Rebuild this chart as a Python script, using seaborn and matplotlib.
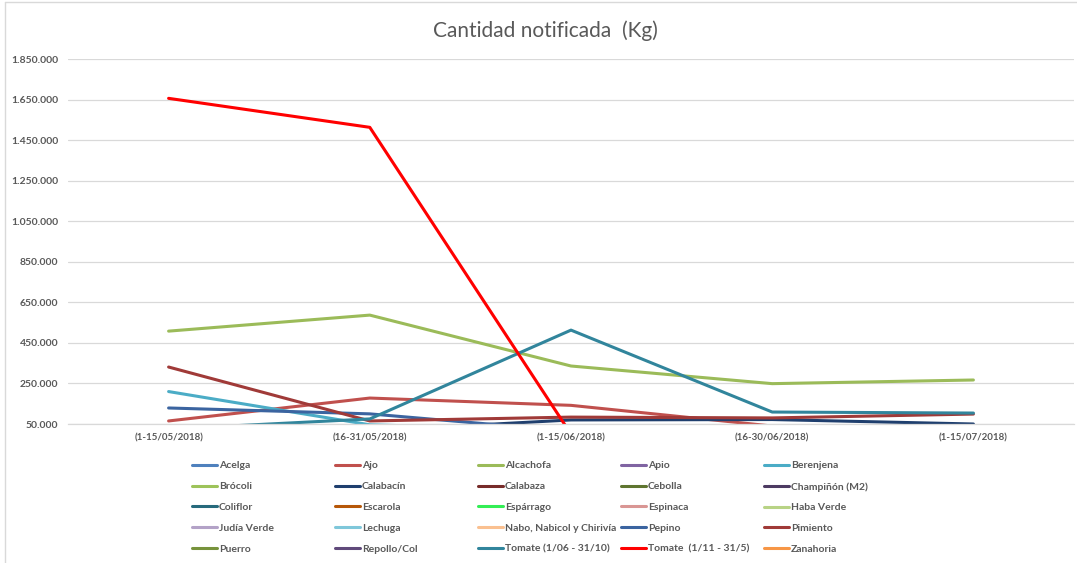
import numpy as np
import pandas as pd
import matplotlib
matplotlib.use('Agg')
import matplotlib.pyplot as plt
import seaborn as sns
from matplotlib.ticker import FuncFormatter
from matplotlib.lines import Line2D

# periodos (eje x)
periodos = ['(1-15/05/2018)', '(16-31/05/2018)', '(1-15/06/2018)',
            '(16-30/06/2018)', '(1-15/07/2018)']

# productos en el orden de la leyenda
productos = ['Acelga', 'Ajo', 'Alcachofa', 'Apio', 'Berenjena',
             'Brócoli', 'Calabacín', 'Calabaza', 'Cebolla', 'Champiñón (M2)',
             'Coliflor', 'Escarola', 'Espárrago', 'Espinaca', 'Haba Verde',
             'Judía Verde', 'Lechuga', 'Nabo, Nabicol y Chirivía', 'Pepino', 'Pimiento',
             'Puerro', 'Repollo/Col', 'Tomate (1/06 - 31/10)', 'Tomate  (1/11 - 31/5)', 'Zanahoria']

colores = ['#4F81BD', '#C0504D', '#9BBB59', '#8064A2', '#4BACC6',
           '#9DC35A', '#1F3F6E', '#772C2A', '#5F7530', '#4D3B62',
           '#276A7C', '#B65708', '#33EE55', '#D99694', '#B8D385',
           '#B3A2C7', '#7FC7DA', '#FAC090', '#3B64A0', '#A03A38',
           '#77933C', '#604A7B', '#31859C', '#FF0000', '#F79646']

# cantidades (kg); las que no se ven quedan por debajo de 50.000
ajo = [65000, 178000, 142000, 40000, 30000]
alcachofa = [508000, 587000, 336000, 249000, 267000]
berenjena = [210000, 46000, 20000, 20000, 20000]
calabacin = [0, 17000, 70000, 72000, 50000]
pepino = [129000, 100000, 15000, 15000, 15000]
pimiento = [331000, 65000, 84000, 80000, 99000]
tomate_verano = [25000, 75000, 513000, 109000, 104000]
tomate_invierno = [1656000, 1513000, 0, 0, 0]
cero = [0, 0, 0, 0, 0]

# eje y
y_min, y_max, y_paso = 50000, 1850000, 200000

valores = {p: cero for p in productos}
valores['Ajo'] = ajo
valores['Alcachofa'] = alcachofa
valores['Berenjena'] = berenjena
valores['Calabacín'] = calabacin
valores['Pepino'] = pepino
valores['Pimiento'] = pimiento
valores['Tomate (1/06 - 31/10)'] = tomate_verano
valores['Tomate  (1/11 - 31/5)'] = tomate_invierno

filas = []
for p in productos:
    for i, v in enumerate(valores[p]):
        filas.append({'producto': p, 'periodo': i, 'kg': v})
df = pd.DataFrame(filas)
paleta = dict(zip(productos, colores))

sns.set_style('white')
plt.rcParams['font.family'] = ['Lato', 'DejaVu Sans']
gris = '#595959'

W, H = 1077, 563
fig = plt.figure(figsize=(W / 100, H / 100), dpi=100)
ax = fig.add_axes([68 / W, 1 - 424 / H, (1074 - 68) / W, (424 - 59) / H])

sns.lineplot(data=df, x='periodo', y='kg', hue='producto', palette=paleta,
             hue_order=productos, linewidth=2.2, sort=False, legend=False, ax=ax)

ax.set_xlim(-0.5, 4.5)
ax.set_ylim(y_min, y_max)
ax.set_yticks(np.arange(y_min, y_max + 1, y_paso))
ax.yaxis.set_major_formatter(FuncFormatter(lambda v, p: f'{v:,.0f}'.replace(',', '.')))
ax.set_xticks(range(len(periodos)))
ax.set_xticklabels(periodos)
ax.set_xlabel('')
ax.set_ylabel('')
ax.grid(axis='y', color='#D9D9D9', linewidth=0.9)
ax.set_axisbelow(True)
for s in ['top', 'right', 'left']:
    ax.spines[s].set_visible(False)
ax.spines['bottom'].set_color('#D9D9D9')
ax.spines['bottom'].set_linewidth(0.9)
ax.tick_params(axis='both', length=0, labelsize=7, labelcolor=gris)
ax.tick_params(axis='y', labelsize=7.5, pad=7)
ax.tick_params(axis='x', pad=7)
for t in ax.get_xticklabels() + ax.get_yticklabels():
    t.set_fontweight('bold')

fig.text(545 / W, 1 - 31 / H, 'Cantidad notificada  (Kg)', ha='center', va='center',
         fontsize=15, color=gris)

# leyenda: 5 columnas de igual ancho, ordenadas por filas
for j in range(5):
    idx = [r * 5 + j for r in range(5)]
    hs = [Line2D([], [], color=colores[k], linewidth=2.2) for k in idx]
    ls = [productos[k] for k in idx]
    leg = fig.legend(hs, ls, loc='upper left',
                     bbox_to_anchor=((187 + 143 * j) / W, 1 - 456 / H),
                     frameon=False, fontsize=7.5, handlelength=2.4,
                     handletextpad=0.15, labelspacing=1.1, borderpad=0)
    for t in leg.get_texts():
        t.set_color(gris)
        t.set_fontweight('bold')

# borde del area del grafico
fig.add_artist(Line2D([5 / W, 5 / W], [0, 1 - 2 / H], color='#D9D9D9', linewidth=1,
                      transform=fig.transFigure))
fig.add_artist(Line2D([5 / W, 1], [1 - 2 / H, 1 - 2 / H], color='#D9D9D9', linewidth=1,
                      transform=fig.transFigure))

fig.savefig('out.png', dpi=100)
